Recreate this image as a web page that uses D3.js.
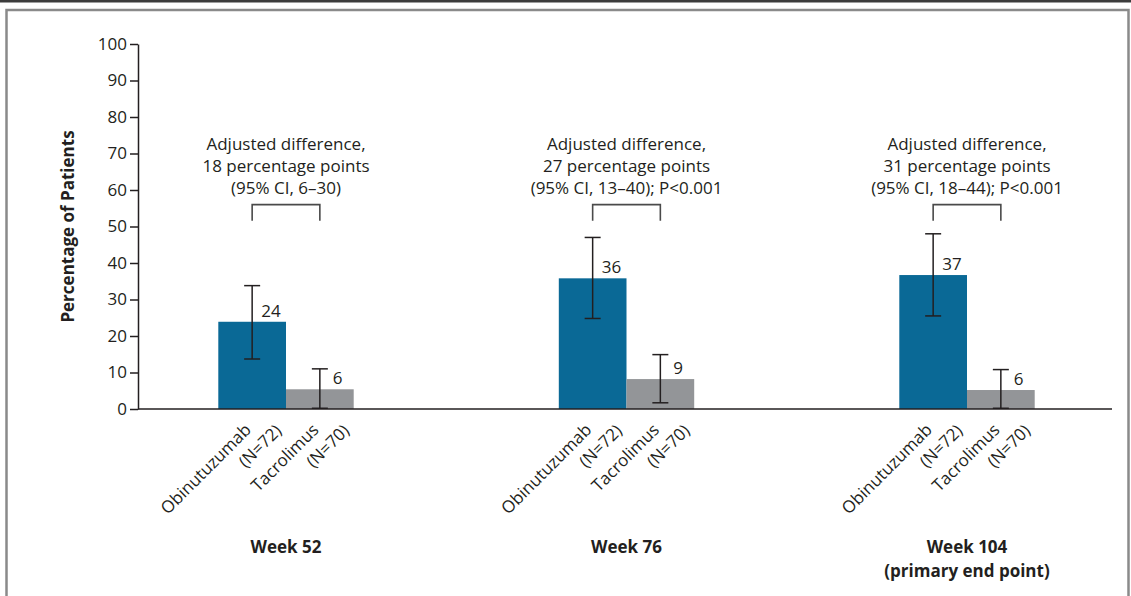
<!DOCTYPE html>
<html>
<head>
<meta charset="utf-8">
<script src="https://cdn.jsdelivr.net/npm/d3@7"></script>
<style>
  html, body { margin: 0; padding: 0; background: #fff; }
  svg { display: block; font-family: "Open Sans", "Noto Sans", sans-serif; }
</style>
</head>
<body>
<svg id="chart" width="1131" height="596"></svg>
<script>
// ---- data ----
const groups = ["Week 52", "Week 76", "Week 104"];
const groupSub = ["", "", "(primary end point)"];
const seriesNames = ["Obinutuzumab", "Tacrolimus"];
const seriesN = ["(N=72)", "(N=70)"];
const obiValues = [23.9, 35.8, 36.7];
const tacValues = [5.4, 8.2, 5.2];
const obiLabels = ["24", "36", "37"];
const tacLabels = ["6", "9", "6"];
const obiLow = [13.7, 24.8, 25.5];
const obiHigh = [33.8, 47.0, 48.0];
const tacLow = [0.2, 1.7, 0.2];
const tacHigh = [11.0, 14.9, 10.8];
const annotLine1 = ["Adjusted difference,", "Adjusted difference,", "Adjusted difference,"];
const annotLine2 = ["18 percentage points", "27 percentage points", "31 percentage points"];
const annotLine3 = ["(95% CI, 6\u201330)", "(95% CI, 13\u201340); P<0.001", "(95% CI, 18\u201344); P<0.001"];
const yTicks = [0, 10, 20, 30, 40, 50, 60, 70, 80, 90, 100];
const yTitle = "Percentage of Patients";

// ---- layout ----
const svg = d3.select("#chart");
const W = 1131, H = 596;
const textColor = "#231f20";
const colors = ["#0a6996", "#939598"];
const fs = 17;

// frame
svg.append("line").attr("x1", 0).attr("x2", W).attr("y1", 1.2).attr("y2", 1.2)
  .attr("stroke", "#3c3c3c").attr("stroke-width", 2.4);
svg.append("rect").attr("x", 6.5).attr("y", 10).attr("width", 1122).attr("height", H + 20)
  .attr("fill", "none").attr("stroke", "#8a8a8a").attr("stroke-width", 2.5);

const y = d3.scaleLinear().domain([0, 100]).range([409, 44]);
const x0 = d3.scalePoint().domain(groups).range([286, 967]);
const x1 = d3.scaleBand().domain(seriesNames).range([-67.7, 67.7]).padding(0);
const axisLeftX = 138, axisRightX = 1112;

const rows = groups.map((g, i) => ({
  group: g, i,
  items: [
    { s: seriesNames[0], n: seriesN[0], v: obiValues[i], lab: obiLabels[i], lo: obiLow[i], hi: obiHigh[i], c: colors[0], dx: 9 },
    { s: seriesNames[1], n: seriesN[1], v: tacValues[i], lab: tacLabels[i], lo: tacLow[i], hi: tacHigh[i], c: colors[1], dx: 13 }
  ]
}));

// bars
const gGroups = svg.selectAll("g.grp").data(rows).join("g")
  .attr("class", "grp")
  .attr("transform", d => `translate(${x0(d.group)},0)`);

gGroups.selectAll("rect.bar").data(d => d.items).join("rect")
  .attr("class", "bar")
  .attr("x", d => x1(d.s))
  .attr("width", x1.bandwidth())
  .attr("y", d => y(d.v))
  .attr("height", d => y(0) - y(d.v))
  .attr("fill", d => d.c);

// error bars
const cap = 8;
const eb = gGroups.selectAll("g.eb").data(d => d.items).join("g").attr("class", "eb")
  .attr("stroke", textColor).attr("stroke-width", 1.5);
eb.append("line")
  .attr("x1", d => x1(d.s) + x1.bandwidth() / 2).attr("x2", d => x1(d.s) + x1.bandwidth() / 2)
  .attr("y1", d => y(d.lo)).attr("y2", d => y(d.hi));
eb.append("line")
  .attr("x1", d => x1(d.s) + x1.bandwidth() / 2 - cap).attr("x2", d => x1(d.s) + x1.bandwidth() / 2 + cap)
  .attr("y1", d => y(d.hi)).attr("y2", d => y(d.hi));
eb.append("line")
  .attr("x1", d => x1(d.s) + x1.bandwidth() / 2 - cap).attr("x2", d => x1(d.s) + x1.bandwidth() / 2 + cap)
  .attr("y1", d => y(d.lo)).attr("y2", d => y(d.lo));

// value labels
gGroups.selectAll("text.val").data(d => d.items).join("text")
  .attr("class", "val")
  .attr("x", d => x1(d.s) + x1.bandwidth() / 2 + d.dx)
  .attr("y", d => y(d.v) - 5)
  .attr("font-size", fs).attr("fill", textColor)
  .text(d => d.lab);

// brackets
const bracketTop = 56, bracketLeg = 51.6;
gGroups.append("path")
  .attr("d", d => {
    const a = x1(seriesNames[0]) + x1.bandwidth() / 2;
    const b = x1(seriesNames[1]) + x1.bandwidth() / 2;
    return `M${a},${y(bracketLeg)}V${y(bracketTop)}H${b}V${y(bracketLeg)}`;
  })
  .attr("fill", "none").attr("stroke", "#4a4a4a").attr("stroke-width", 1.6);

// annotations
const annot = gGroups.append("text")
  .attr("text-anchor", "middle").attr("font-size", fs).attr("fill", textColor);
annot.append("tspan").attr("x", 0).attr("y", 150).text(d => annotLine1[d.i]);
annot.append("tspan").attr("x", 0).attr("y", 172).text(d => annotLine2[d.i]);
annot.append("tspan").attr("x", 0).attr("y", 194).text(d => annotLine3[d.i]);

// rotated category labels
const cat = gGroups.selectAll("g.cat").data(d => d.items).join("g").attr("class", "cat")
  .attr("transform", d => `translate(${x1(d.s) + x1.bandwidth() / 2},${y(0) + 22}) rotate(-45)`);
cat.append("text").attr("x", 0).attr("y", 0).attr("text-anchor", "end")
  .attr("font-size", fs).attr("fill", textColor).text(d => d.s);
cat.append("text").attr("x", 21).attr("y", 22).attr("text-anchor", "end")
  .attr("font-size", fs).attr("fill", textColor).text(d => d.n);

// week labels
const wk = gGroups.append("text").attr("text-anchor", "middle")
  .attr("font-size", fs).attr("font-weight", "bold").attr("fill", textColor);
wk.append("tspan").attr("x", 0).attr("y", 553).text(d => d.group);
wk.append("tspan").attr("x", 0).attr("y", 577).text(d => groupSub[d.i]);

// axes
const yAxis = d3.axisLeft(y).tickValues(yTicks).tickSize(8).tickPadding(3).tickSizeOuter(0);
const ga = svg.append("g").attr("transform", `translate(${axisLeftX},0)`).call(yAxis);
ga.select(".domain").attr("stroke", textColor).attr("stroke-width", 1.5);
ga.selectAll(".tick line").attr("stroke", textColor).attr("stroke-width", 1.5);
ga.selectAll(".tick text").attr("font-size", fs).attr("fill", textColor)
  .attr("font-family", "'Open Sans', sans-serif");

svg.append("line").attr("x1", axisLeftX).attr("x2", axisRightX)
  .attr("y1", y(0)).attr("y2", y(0)).attr("stroke", textColor).attr("stroke-width", 1.5);

// y title
svg.append("text")
  .attr("transform", `translate(74,${y(50)}) rotate(-90)`)
  .attr("text-anchor", "middle").attr("font-size", fs).attr("font-weight", "bold")
  .attr("fill", textColor).text(yTitle);
</script>
</body>
</html>
